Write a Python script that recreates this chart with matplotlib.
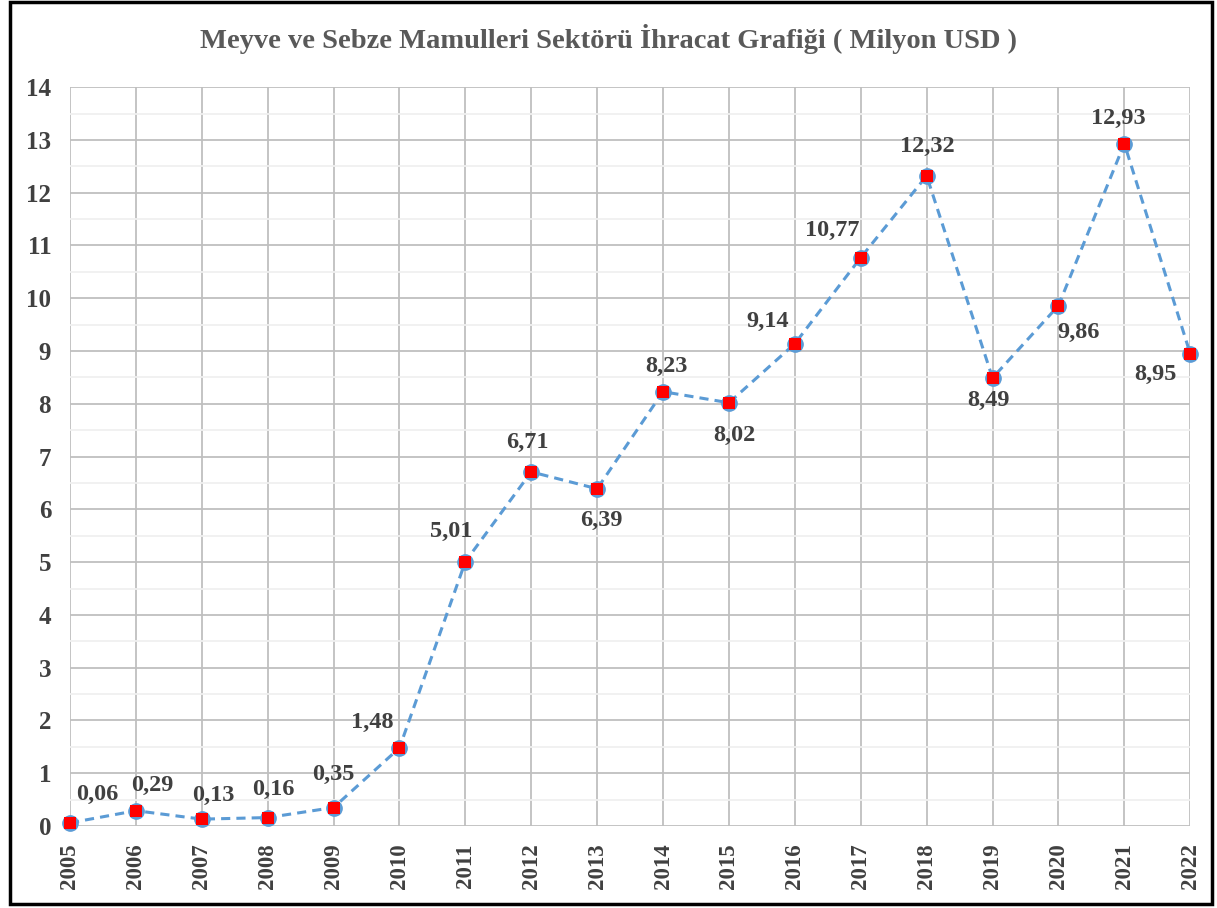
import matplotlib.pyplot as plt
from matplotlib.patches import Rectangle
from matplotlib.ticker import MultipleLocator

years = list(range(2005, 2023))
values = [0.06, 0.29, 0.13, 0.16, 0.35, 1.48, 5.01, 6.71, 6.39, 8.23,
          8.02, 9.14, 10.77, 12.32, 8.49, 9.86, 12.93, 8.95]
labels = ["0,06", "0,29", "0,13", "0,16", "0,35", "1,48", "5,01", "6,71", "6,39",
          "8,23", "8,02", "9,14", "10,77", "12,32", "8,49", "9,86", "12,93", "8,95"]

# label offsets in pixels from each point
offsets = [(27, 28), (16, 25), (12, 24), (6, 28), (0, 33), (-27, 25), (-14, 30),
           (-4, 29), (4, -32), (3, 25), (5, -33), (-27, 22), (-28, 27),
           (1, 29), (-4, -22), (20, -27), (-6, 25), (-35, -21)]

plt.rcParams['font.family'] = ['Liberation Serif', 'DejaVu Serif']
text_color = "#404040"
blue = "#5B9BD5"

fig = plt.figure(figsize=(12.17, 9.08), dpi=100)
ax = fig.add_axes([0.0575, 0.0903, 0.9205, 0.8137])

ax.plot(years, values, linestyle=(0, (3, 2)), color=blue, linewidth=2.2,
        marker='o', markersize=11, markerfacecolor=blue,
        markeredgecolor=blue, zorder=3, clip_on=False)
ax.plot(years, values, linestyle='none', marker='s', markersize=8.5,
        markerfacecolor="red", markeredgewidth=0, zorder=4, clip_on=False)

for x, y, lab, (dx, dy) in zip(years, values, labels, offsets):
    ax.annotate(lab, (x, y), xytext=(dx, dy), textcoords='offset pixels',
                ha='center', va='center', fontsize=17.5, fontweight='bold',
                color=text_color)

ax.set_xlim(2005, 2022)
ax.set_ylim(0, 14)
ax.set_xticks(years)
ax.set_xticklabels([str(y) for y in years], rotation=90, fontsize=16.5,
                   fontweight='bold', color=text_color)
ax.yaxis.set_major_locator(MultipleLocator(1))
ax.yaxis.set_minor_locator(MultipleLocator(0.5))
for t in ax.get_yticklabels():
    t.set_fontsize(18)
    t.set_fontweight('bold')
    t.set_color(text_color)
ax.tick_params(axis='both', which='both', length=0)
ax.tick_params(axis='y', pad=13.5)
ax.tick_params(axis='x', pad=12.5)

ax.grid(True, which='major', color="#BFBFBF", linewidth=1.3)
ax.grid(True, which='minor', axis='y', color="#F0F0F0", linewidth=1.3)
ax.set_axisbelow(True)
for s in ax.spines.values():
    s.set_visible(False)

fig.text(0.5, 0.957, "Meyve ve Sebze Mamulleri Sektörü İhracat Grafiği ( Milyon USD )",
         ha='center', va='center', fontsize=20.5, fontweight='bold', color="#595959")

fig.patches.append(Rectangle((0.008, 0.004), 0.988, 0.994, transform=fig.transFigure,
                             fill=False, edgecolor='black', linewidth=2.5))

fig.savefig("out.png", dpi=100)
